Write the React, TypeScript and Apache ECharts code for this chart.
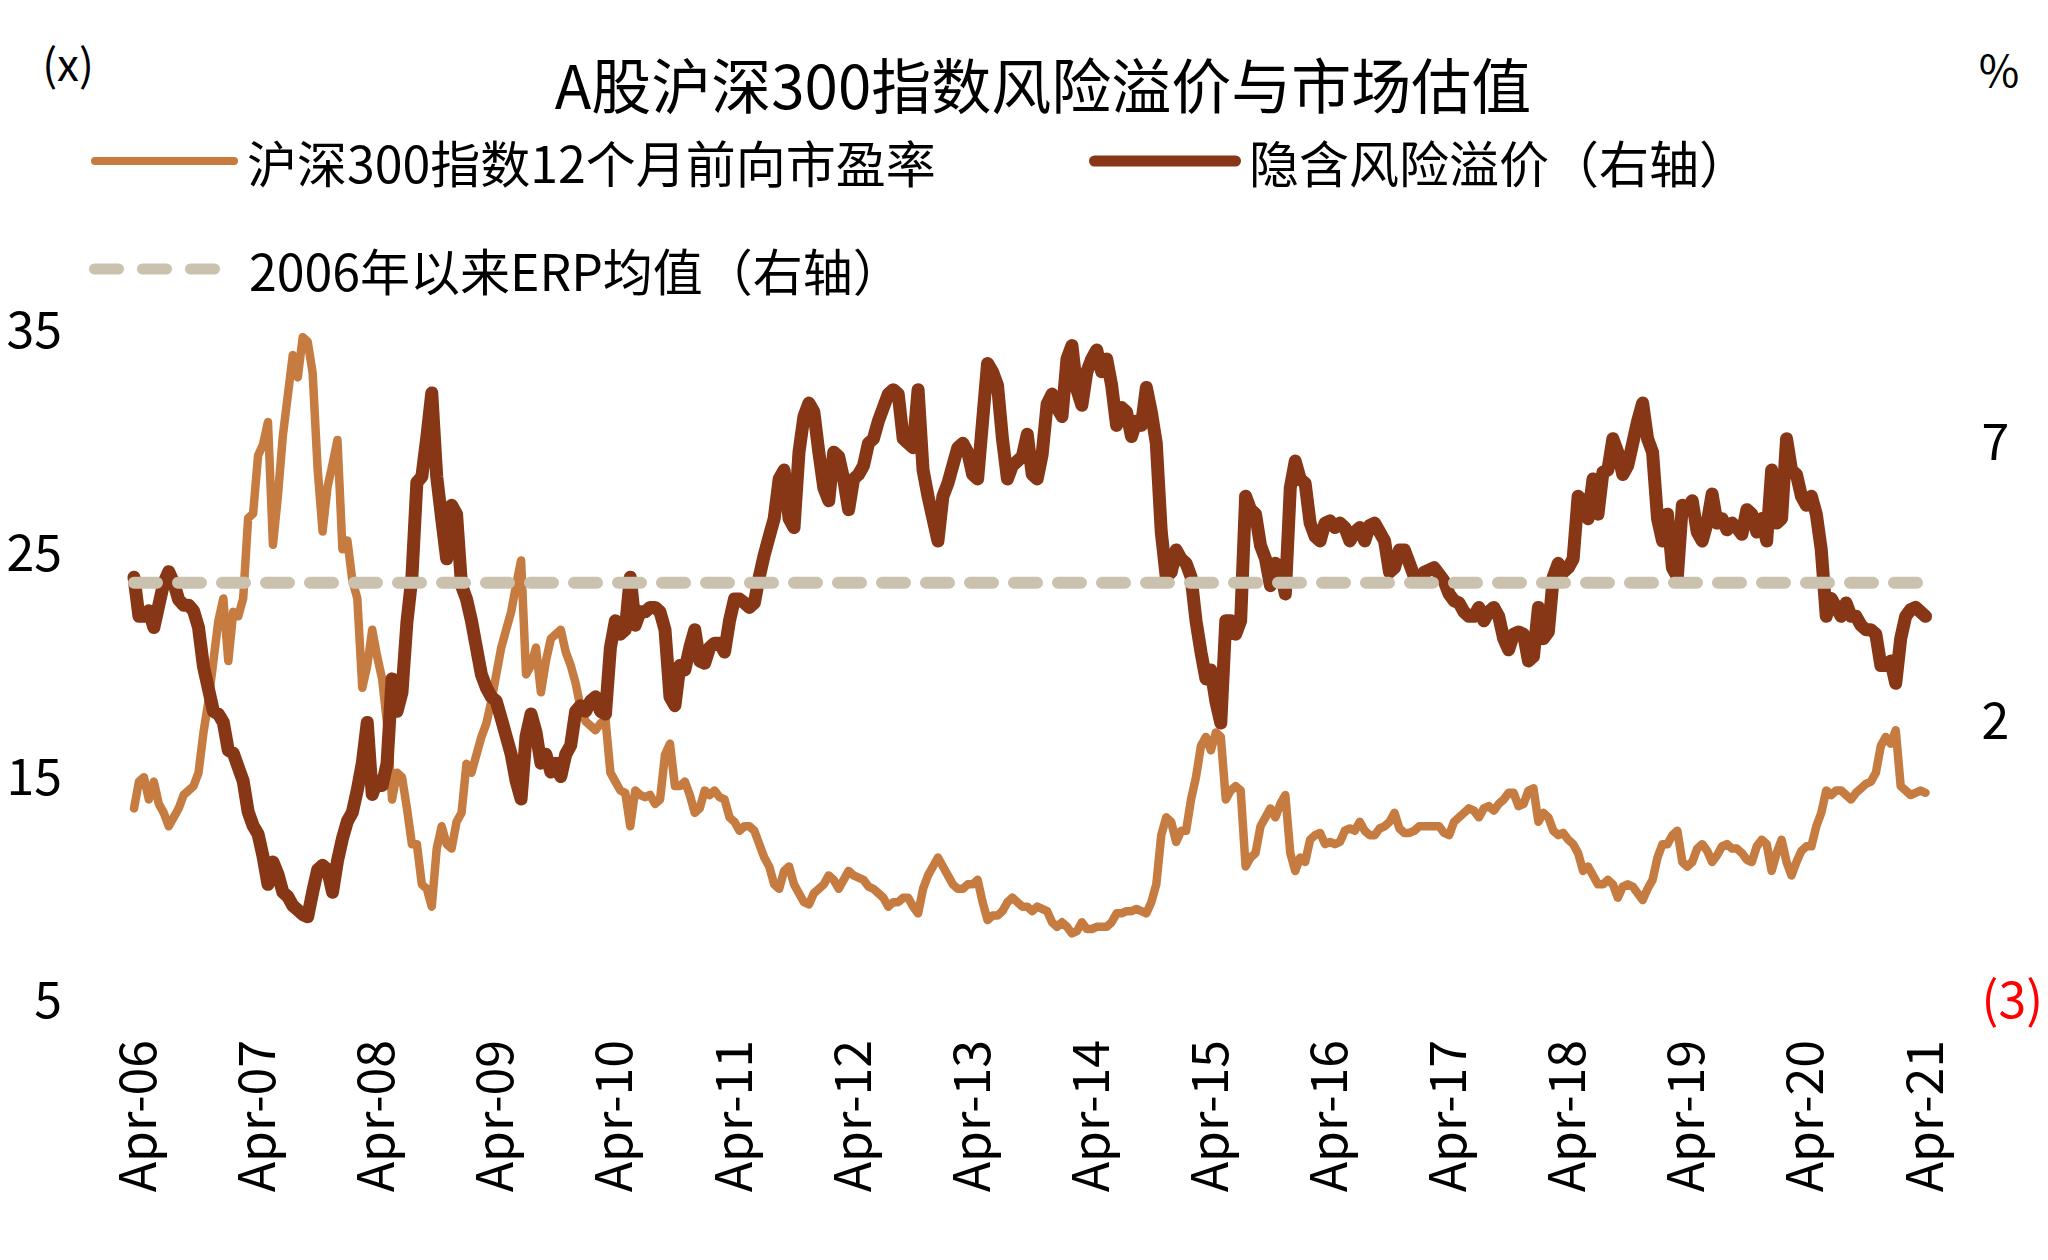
import React, { useEffect, useRef } from "react";
import * as echarts from "echarts";

const FONT = "'Noto Sans CJK SC', 'Noto Sans', sans-serif";

const MONTHS = ["Jan", "Feb", "Mar", "Apr", "May", "Jun", "Jul", "Aug", "Sep", "Oct", "Nov", "Dec"];
// Semi-monthly categories (1st and 16th) from 2006-04-01 to 2021-04-16
const categories: string[] = [];
for (let h = 0; h < 362; h++) {
  const m = Math.floor(h / 2);
  const mi = (3 + m) % 12;
  const yr = 2006 + Math.floor((3 + m) / 12);
  categories.push(`${yr}-${String(mi + 1).padStart(2, "0")}-${h % 2 ? "16" : "01"}`);
}

const SERIES_PE = "沪深300指数12个月前向市盈率";
const SERIES_ERP = "隐含风险溢价（右轴）";
const SERIES_MEAN = "2006年以来ERP均值（右轴）";

// 沪深300指数12个月前向市盈率 (x), left axis
const peValues = [
  13.4, 14.6, 14.8, 13.8, 14.6, 13.6, 13.2, 12.6, 13.0, 13.4, 14.0, 14.2,
  14.4, 15.0, 16.8, 18.2, 20.0, 21.8, 22.8, 20.0, 22.2, 22.0, 22.8, 26.4,
  26.6, 29.2, 29.7, 30.7, 25.2, 27.4, 30.1, 31.9, 33.7, 32.7, 34.5, 34.3,
  32.9, 28.6, 25.8, 27.8, 28.8, 29.9, 25.0, 25.4, 23.6, 22.8, 18.8, 19.8,
  21.4, 20.2, 19.2, 17.2, 13.8, 15.0, 14.8, 13.4, 11.8, 11.8, 10.0, 9.8,
  9.0, 11.6, 12.6, 11.8, 11.6, 12.8, 13.2, 15.4, 15.0, 15.8, 16.6, 17.2,
  18.2, 19.4, 20.6, 21.4, 22.2, 23.4, 24.5, 19.4, 19.8, 20.6, 18.6, 20.0,
  21.0, 21.2, 21.4, 20.4, 19.8, 19.0, 17.9, 17.3, 17.1, 16.9, 17.2, 17.4,
  15.0, 14.6, 14.2, 14.1, 12.6, 14.2, 14.0, 13.9, 14.0, 13.6, 13.8, 15.8,
  16.3, 14.4, 14.4, 14.6, 14.0, 13.2, 13.4, 14.2, 14.0, 14.2, 13.9, 13.8,
  13.0, 12.8, 12.4, 12.6, 12.6, 12.4, 11.8, 11.2, 10.8, 10.0, 9.8, 10.6,
  10.8, 10.0, 9.6, 9.2, 9.1, 9.6, 9.8, 10.0, 10.4, 10.2, 9.8, 10.2,
  10.6, 10.4, 10.3, 10.2, 9.9, 9.8, 9.6, 9.4, 9.0, 9.2, 9.2, 9.4,
  9.4, 9.0, 8.7, 9.8, 10.4, 10.8, 11.2, 10.8, 10.4, 10.0, 9.8, 9.8,
  10.0, 10.0, 10.2, 9.2, 8.4, 8.6, 8.6, 8.8, 9.2, 9.4, 9.2, 9.0,
  9.0, 8.8, 9.0, 8.9, 8.8, 8.3, 8.1, 8.3, 8.1, 7.8, 7.9, 8.3,
  8.0, 8.0, 8.1, 8.1, 8.1, 8.3, 8.7, 8.7, 8.8, 8.8, 8.9, 8.8,
  8.7, 9.2, 10.0, 12.2, 13.0, 12.8, 11.9, 12.4, 12.4, 13.8, 14.8, 16.2,
  16.6, 16.0, 16.8, 16.6, 13.8, 14.2, 14.4, 14.2, 10.8, 11.2, 11.4, 12.6,
  13.0, 13.4, 13.0, 13.6, 14.0, 11.4, 10.6, 11.2, 11.0, 12.0, 12.2, 12.3,
  11.8, 11.9, 11.8, 11.9, 12.4, 12.5, 12.4, 12.8, 12.4, 12.2, 12.2, 12.5,
  12.6, 12.8, 13.2, 12.5, 12.3, 12.3, 12.4, 12.6, 12.6, 12.6, 12.6, 12.6,
  12.3, 12.2, 12.8, 13.0, 13.2, 13.4, 13.3, 13.0, 13.4, 13.5, 13.3, 13.6,
  13.8, 14.1, 14.1, 13.5, 13.6, 14.2, 14.3, 12.8, 13.2, 13.0, 12.4, 12.2,
  12.3, 12.0, 11.8, 11.4, 10.6, 10.8, 10.4, 10.0, 10.0, 10.2, 10.0, 9.4,
  9.9, 10.0, 9.9, 9.6, 9.3, 9.8, 10.2, 11.2, 11.8, 11.8, 12.2, 12.4,
  11.0, 10.8, 11.0, 11.6, 11.8, 11.5, 11.0, 11.3, 11.7, 11.8, 11.6, 11.6,
  11.4, 11.1, 11.0, 11.7, 12.0, 11.8, 10.6, 11.4, 12.0, 11.0, 10.4, 11.0,
  11.5, 11.7, 11.7, 12.6, 13.2, 14.2, 14.0, 14.2, 14.2, 14.0, 13.8, 14.1,
  14.3, 14.5, 14.6, 15.0, 16.2, 16.6, 16.3, 16.9, 14.4, 14.2, 14.0, 14.1,
  14.2, 14.1,
];

// 隐含风险溢价 (%), right axis
const erpValues = [
  4.5, 3.8, 3.8, 3.9, 3.6, 4.0, 4.4, 4.6, 4.4, 4.1, 4.0, 4.0,
  3.9, 3.6, 2.9, 2.5, 2.1, 2.05, 1.9, 1.4, 1.35, 1.1, 0.85, 0.3,
  0.05, -0.1, -0.5, -1.0, -0.6, -0.82, -1.14, -1.22, -1.38, -1.46, -1.54, -1.58,
  -1.14, -0.74, -0.66, -0.74, -1.14, -0.58, -0.18, 0.13, 0.29, 0.69, 1.17, 1.9,
  0.61, 0.85, 0.77, 1.17, 2.68, 2.1, 2.44, 3.7, 4.5, 6.2, 6.3, 7.0,
  7.8, 6.3, 5.55, 4.83, 5.79, 5.63, 4.35, 4.11, 3.72, 3.24, 2.76, 2.52,
  2.36, 2.28, 1.97, 1.65, 1.33, 0.85, 0.53, 1.65, 2.05, 1.73, 1.17, 1.33,
  1.01, 1.17, 0.93, 1.33, 1.49, 2.1, 2.2, 2.1, 2.28, 2.36, 2.1, 2.05,
  3.24, 3.72, 3.48, 3.56, 4.5, 3.64, 3.88, 3.88, 3.96, 3.96, 3.88, 3.56,
  2.36, 2.2, 2.92, 2.84, 3.24, 3.56, 3.0, 2.96, 3.24, 3.32, 3.32, 3.16,
  3.72, 4.11, 4.11, 4.04, 3.96, 4.04, 4.51, 4.9, 5.23, 5.55, 6.26, 6.42,
  5.55, 5.39, 6.74, 7.38, 7.62, 7.46, 6.74, 6.1, 5.87, 6.74, 6.66, 6.26,
  5.71, 6.26, 6.34, 6.5, 6.9, 6.98, 7.3, 7.54, 7.78, 7.86, 7.78, 6.98,
  6.9, 6.82, 7.86, 6.42, 5.95, 5.55, 5.15, 5.95, 6.18, 6.5, 6.82, 6.9,
  6.74, 6.34, 6.26, 7.3, 8.33, 8.18, 7.94, 6.98, 6.26, 6.5, 6.58, 6.66,
  7.06, 6.34, 6.26, 6.7, 7.6, 7.78, 7.54, 7.38, 8.41, 8.65, 7.86, 7.58,
  8.18, 8.41, 8.57, 8.18, 8.41, 7.94, 7.22, 7.54, 7.46, 7.02, 7.3, 7.22,
  7.9, 7.46, 6.9, 5.31, 4.51, 4.59, 4.99, 4.83, 4.75, 4.51, 3.72, 3.16,
  2.68, 2.84, 2.28, 1.89, 3.72, 3.72, 3.48, 3.72, 5.95, 5.71, 5.63, 5.07,
  4.83, 4.35, 4.75, 4.67, 4.2, 6.1, 6.58, 6.26, 6.18, 5.47, 5.23, 5.15,
  5.47, 5.51, 5.39, 5.47, 5.39, 5.15, 5.31, 5.39, 5.15, 5.43, 5.47, 5.31,
  5.15, 4.59, 4.67, 4.99, 4.99, 4.75, 4.51, 4.47, 4.59, 4.63, 4.67, 4.55,
  4.43, 4.2, 4.08, 4.04, 3.88, 3.8, 3.8, 3.96, 3.72, 3.88, 3.96, 3.8,
  3.4, 3.2, 3.48, 3.52, 3.48, 3.0, 3.08, 3.96, 3.4, 3.52, 4.51, 4.75,
  4.59, 4.67, 4.83, 5.95, 5.87, 5.55, 6.26, 5.63, 6.38, 6.42, 6.98, 6.74,
  6.34, 6.5, 6.9, 7.3, 7.62, 6.98, 6.74, 5.55, 5.15, 5.63, 4.67, 4.51,
  5.79, 5.71, 5.87, 5.31, 5.15, 5.47, 5.99, 5.47, 5.55, 5.35, 5.47, 5.39,
  5.27, 5.71, 5.63, 5.31, 5.55, 5.15, 6.42, 5.47, 5.55, 6.98, 6.42, 6.34,
  5.95, 5.79, 5.95, 5.63, 4.99, 3.8, 4.12, 3.96, 3.8, 4.04, 3.8, 3.8,
  3.64, 3.56, 3.56, 3.48, 2.92, 2.92, 3.0, 2.6, 3.4, 3.8, 3.92, 3.96,
  3.88, 3.8,
];

// 2006年以来ERP均值 (%)
const ERP_MEAN = 4.4;
const meanValues = categories.map(() => ERP_MEAN);

const leftTicks = { min: 5, max: 35, interval: 10 };
const rightTicks = { min: -3, max: 9, interval: 5 };

const COLOR_PE = "#C67B40";
const COLOR_ERP = "#873716";
const COLOR_MEAN = "#CBC1AF";

// rounded bar icon of width w, height h (pill)
function pill(x: number, w: number, h: number): string {
  const r = h / 2;
  return `M${x + r},0 H${x + w - r} A${r},${r} 0 0 1 ${x + w - r},${h} H${x + r} A${r},${r} 0 0 1 ${x + r},0 Z`;
}
const ICON_PE = "path://" + pill(0, 147, 8);
const ICON_ERP = "path://" + pill(0, 152, 11);
const ICON_MEAN = "path://" + pill(0, 35, 11) + " " + pill(48, 35, 11) + " " + pill(96, 35, 11);

function xLabel(value: string): string {
  const [y, m] = value.split("-");
  return `${MONTHS[Number(m) - 1]}-${y.slice(2)}`;
}

export default function App() {
  const ref = useRef<HTMLDivElement>(null);

  useEffect(() => {
    document.body.style.margin = "0";
    if (!ref.current) return;
    const chart = echarts.init(ref.current, undefined, { renderer: "svg" });

    const legendText = { fontSize: 50, fontFamily: FONT, color: "#000" };

    chart.setOption({
      animation: false,
      backgroundColor: "#ffffff",
      title: {
        text: "A股沪深300指数风险溢价与市场估值",
        left: 1043,
        top: 52,
        padding: 0,
        textAlign: "center",
        textStyle: { fontSize: 60, fontWeight: "normal", fontFamily: FONT, color: "#000" },
      },
      graphic: [
        {
          type: "text",
          x: 68,
          y: 62,
          style: {
            text: "(x)",
            fontSize: 44,
            fontFamily: FONT,
            fill: "#000",
            align: "center",
            verticalAlign: "middle",
            textAlign: "center",
            textVerticalAlign: "middle",
          },
        },
        {
          type: "text",
          x: 1999,
          y: 68,
          style: {
            text: "%",
            fontSize: 44,
            fontFamily: FONT,
            fill: "#000",
            align: "center",
            verticalAlign: "middle",
            textAlign: "center",
            textVerticalAlign: "middle",
          },
        },
      ],
      legend: [
        {
          data: [{ name: SERIES_PE, icon: ICON_PE }],
          left: 86,
          top: 131,
          itemWidth: 147,
          itemHeight: 8,
          textStyle: { ...legendText, padding: [0, 0, 0, 4] },
          itemStyle: { color: COLOR_PE },
        },
        {
          data: [{ name: SERIES_ERP, icon: ICON_ERP }],
          left: 1084,
          top: 131,
          itemWidth: 152,
          itemHeight: 11,
          textStyle: { ...legendText, padding: [0, 0, 0, 3] },
          itemStyle: { color: COLOR_ERP },
        },
        {
          data: [{ name: SERIES_MEAN, icon: ICON_MEAN }],
          left: 84,
          top: 239,
          itemWidth: 131,
          itemHeight: 11,
          textStyle: { ...legendText, padding: [0, 0, 0, 24] },
          itemStyle: { color: COLOR_MEAN },
        },
      ],
      grid: { left: 134, right: 122.5, top: 326, bottom: 264, containLabel: false },
      xAxis: {
        type: "category",
        data: categories,
        boundaryGap: false,
        axisLine: { show: false },
        axisTick: { show: false },
        splitLine: { show: false },
        axisLabel: {
          interval: 23,
          rotate: 90,
          margin: 44,
          fontSize: 50,
          fontFamily: FONT,
          color: "#000",
          formatter: xLabel,
        },
      },
      yAxis: [
        {
          type: "value",
          position: "left",
          ...leftTicks,
          axisLine: { show: false },
          axisTick: { show: false },
          splitLine: { show: false },
          axisLabel: { margin: 72, fontSize: 50, fontFamily: FONT, color: "#000" },
        },
        {
          type: "value",
          position: "right",
          ...rightTicks,
          axisLine: { show: false },
          axisTick: { show: false },
          splitLine: { show: false },
          axisLabel: {
            margin: 56,
            showMaxLabel: false,
            fontSize: 50,
            fontFamily: FONT,
            color: "#000",
            formatter: (v: number) => (v < 0 ? `{neg|(${-v})}` : `${v}`),
            rich: { neg: { color: "#FF0000", fontSize: 50, fontFamily: FONT } },
          },
        },
      ],
      series: [
        {
          name: SERIES_PE,
          type: "line",
          yAxisIndex: 0,
          data: peValues,
          symbol: "none",
          lineStyle: { color: COLOR_PE, width: 8.5, cap: "round", join: "round" },
          itemStyle: { color: COLOR_PE },
        },
        {
          name: SERIES_ERP,
          type: "line",
          yAxisIndex: 1,
          data: erpValues,
          symbol: "none",
          lineStyle: { color: COLOR_ERP, width: 13, cap: "round", join: "round" },
          itemStyle: { color: COLOR_ERP },
        },
        {
          name: SERIES_MEAN,
          type: "line",
          yAxisIndex: 1,
          data: meanValues,
          symbol: "none",
          lineStyle: { color: COLOR_MEAN, width: 12, cap: "round", type: [23, 21] },
          itemStyle: { color: COLOR_MEAN },
        },
      ],
    });

    return () => chart.dispose();
  }, []);

  return <div ref={ref} style={{ width: 2048, height: 1260 }} />;
}
